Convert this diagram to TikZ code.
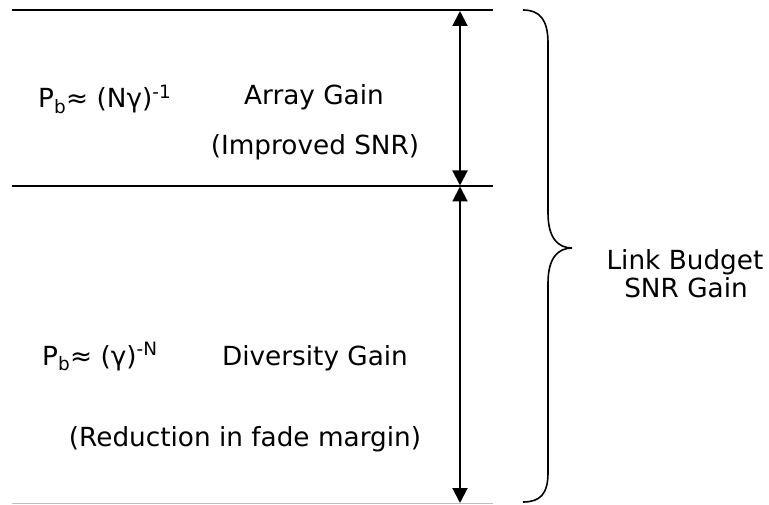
\documentclass[tikz,border=0pt]{standalone}
\usepackage{fontspec}
\setmainfont{DejaVu Sans}
\usetikzlibrary{arrows.meta}
\tikzset{
  lbl/.style={inner sep=0pt, font=\fontsize{26.3}{28}\selectfont},
  hline/.style={line width=1.6pt, black},
  dbl/.style={line width=2pt, {Triangle[length=15pt,width=15pt]}-{Triangle[length=15pt,width=15pt]}},
  brace/.style={line width=1.6pt}
}
\begin{document}
\begin{tikzpicture}[x=1pt,y=-1pt]
\useasboundingbox (0,0) rectangle (769,505);
% horizontal lines
\coordinate (t1) at (12,10);   \coordinate (t2) at (493,10);
\coordinate (m1) at (12,186);  \coordinate (m2) at (493,186);
\coordinate (b1) at (12,503.5);  \coordinate (b2) at (493,503.5);
\draw[hline] (t1) -- (t2);
\draw[hline] (m1) -- (m2);
\draw[line width=1pt, black!25] (b1) -- (b2);
% arrows
\coordinate (a1) at (460,11);
\coordinate (a2) at (460,185.5);
\coordinate (a3) at (460,186.5);
\coordinate (a4) at (460,503);
\draw[dbl] (a1) -- (a2);
\draw[dbl] (a3) -- (a4);
% brace
\draw[brace] (523,10) .. controls (540,10) and (548,20) .. (548,43) -- (548,213)
  .. controls (548,238) and (558,248) .. (572,248)
  .. controls (558,248) and (548,258) .. (548,283) -- (548,473)
  .. controls (548,494) and (540,502) .. (523,502);
% texts
\node[lbl, anchor=base west] (pb1) at (38,108) {P\textsubscript{b}≈ (Nγ)\textsuperscript{-1}};
\node[lbl, anchor=base] (ag) at (314,105) {Array Gain};
\node[lbl, anchor=base] (isnr) at (315,155) {(Improved SNR)};
\node[lbl, anchor=base west] (pb2) at (42,365) {P\textsubscript{b}≈ (γ)\textsuperscript{-N}};
\node[lbl, anchor=base] (dg) at (315,365) {Diversity Gain};
\node[lbl, anchor=base] (rfm) at (245,446) {(Reduction in fade margin)};
\node[lbl, anchor=base] (lb1) at (685,270) {Link Budget};
\node[lbl, anchor=base] (lb2) at (686,298) {SNR Gain};
\end{tikzpicture}
\end{document}
